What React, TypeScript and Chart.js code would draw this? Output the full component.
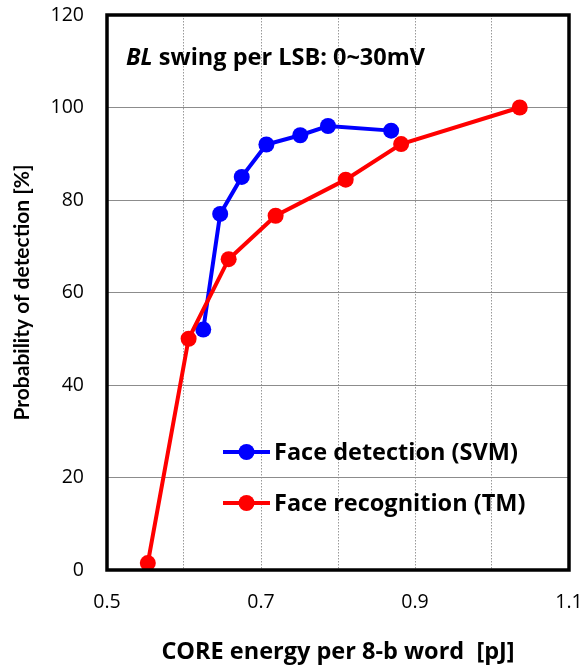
import React, { useEffect, useRef } from "react";
import { Chart, registerables } from "chart.js";

Chart.register(...registerables);

// ---- data ----
const detectionX = [0.625, 0.647, 0.675, 0.707, 0.751, 0.787, 0.869];
const detectionY = [52, 77, 85, 92, 94, 96, 95];
const recognitionX = [0.553, 0.606, 0.658, 0.719, 0.81, 0.882, 1.036];
const recognitionY = [1.5, 50, 67.2, 76.6, 84.4, 92.1, 100];
const seriesLabels = ["Face detection (SVM)", "Face recognition (TM)"];
const seriesColors = ["#0000FF", "#FF0000"];
const xTickLabels = [0.5, 0.7, 0.9, 1.1];
const xTitle = "CORE energy per 8-b word  [pJ]";
const yTitle = "Probability of detection [%]";
const noteItalic = "BL";
const noteRest = " swing per LSB: 0~30mV";

const FONT = "Lato";
const HFONT = "'Open Sans'";
const HSIZE = 23.5;

const overlayPlugin = {
  id: "overlay",
  afterDraw(chart: any) {
    const { ctx, chartArea } = chart;
    const { left, top, right, bottom } = chartArea;
    ctx.save();
    // frame
    ctx.strokeStyle = "#000";
    ctx.lineWidth = 3.5;
    ctx.strokeRect(left, top, right - left, bottom - top);

    // annotation
    ctx.fillStyle = "#000";
    ctx.textBaseline = "alphabetic";
    ctx.textAlign = "left";
    const nx = left + 19;
    const ny = top + 50;
    ctx.font = `italic bold ${HSIZE}px ${HFONT}`;
    ctx.fillText(noteItalic, nx, ny);
    const w = ctx.measureText(noteItalic).width;
    ctx.font = `bold ${HSIZE}px ${HFONT}`;
    ctx.fillText(noteRest, nx + w, ny);

    // legend
    const ds = chart.data.datasets;
    const order = [1, 0];
    order.forEach((di: number, row: number) => {
      const d = ds[di];
      const y = top + 437 + row * 51;
      const x0 = left + 116;
      const x1 = left + 163;
      ctx.strokeStyle = d.borderColor;
      ctx.lineWidth = 4;
      ctx.beginPath();
      ctx.moveTo(x0, y);
      ctx.lineTo(x1, y);
      ctx.stroke();
      ctx.fillStyle = d.backgroundColor;
      ctx.beginPath();
      ctx.arc((x0 + x1) / 2, y, 8, 0, Math.PI * 2);
      ctx.fill();
      ctx.fillStyle = "#000";
      ctx.font = `bold ${HSIZE}px ${HFONT}`;
      ctx.textBaseline = "alphabetic";
      ctx.fillText(d.label, x1 + 4, y + 8);
    });
    ctx.restore();
  },
};

export default function App() {
  const ref = useRef<HTMLCanvasElement>(null);

  useEffect(() => {
    if (!ref.current) return;
    const chart = new Chart(ref.current, {
      type: "line",
      data: {
        datasets: [
          {
            label: seriesLabels[1],
            data: recognitionX.map((x, i) => ({ x, y: recognitionY[i] })),
            borderColor: seriesColors[1],
            backgroundColor: seriesColors[1],
            borderWidth: 4,
            pointRadius: 8,
            pointBorderWidth: 0,
            tension: 0,
            clip: false,
            order: 0,
          },
          {
            label: seriesLabels[0],
            data: detectionX.map((x, i) => ({ x, y: detectionY[i] })),
            borderColor: seriesColors[0],
            backgroundColor: seriesColors[0],
            borderWidth: 4,
            pointRadius: 8,
            pointBorderWidth: 0,
            tension: 0,
            clip: false,
            order: 1,
          },
        ],
      },
      options: {
        responsive: false,
        animation: false,
        devicePixelRatio: 1,
        layout: { padding: { left: 0, top: 15, right: 17, bottom: 0 } },
        plugins: {
          legend: { display: false },
          tooltip: { enabled: false },
        },
        scales: {
          x: {
            type: "linear",
            min: 0.5,
            max: 1.1,
            afterFit: (s: any) => {
              s.height = 101;
              s.paddingLeft = 0;
              s.paddingRight = 0;
            },
            ticks: {
              stepSize: 0.1,
              autoSkip: false,
              maxRotation: 0,
              padding: 21,
              color: "#000",
              font: { family: HFONT, size: 19.5 },
              callback: (v: any) => {
                const n = Number(v);
                return xTickLabels.some((t) => Math.abs(t - n) < 1e-6) ? n.toFixed(1) : "";
              },
            },
            grid: { color: "#999", lineWidth: 1, drawTicks: false },
            border: { display: false, dash: [1.5, 1.5] },
            title: {
              display: true,
              text: xTitle,
              color: "#000",
              font: { family: HFONT, size: HSIZE, weight: "bold" },
              padding: { top: 0, bottom: 5 },
            },
          },
          y: {
            type: "linear",
            min: 0,
            max: 120,
            afterFit: (s: any) => {
              s.width = 107;
              s.paddingTop = 0;
              s.paddingBottom = 0;
            },
            ticks: {
              stepSize: 20,
              padding: 23,
              color: "#000",
              font: { family: HFONT, size: 19.5 },
            },
            grid: { color: "#8c8c8c", lineWidth: 1, drawTicks: false },
            border: { display: false },
            title: {
              display: true,
              text: yTitle,
              color: "#000",
              font: { family: FONT, size: 21, weight: "bold" },
              padding: { top: 10, bottom: 0 },
            },
          },
        },
      },
      plugins: [overlayPlugin],
    } as any);
    return () => chart.destroy();
  }, []);

  return (
    <div style={{ position: "absolute", left: 0, top: 0, width: 586, height: 671, background: "#fff" }}>
      <canvas ref={ref} width={586} height={671} />
    </div>
  );
}
